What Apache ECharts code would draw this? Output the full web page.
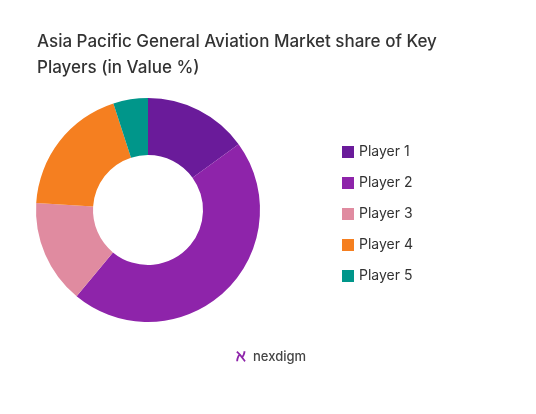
<!DOCTYPE html>
<html><head><meta charset="utf-8">
<script src="https://cdn.jsdelivr.net/npm/echarts@6/dist/echarts.min.js"></script>
<style>html,body{margin:0;background:#fff}#c{width:536px;height:414px}</style>
</head><body><div id="c"></div>
<script>
const categories = ['Player 1','Player 2','Player 3','Player 4','Player 5'];
const values = [15, 46, 15, 19, 5];
const colors = ['#6a1b9a','#8e24aa','#e08ba0','#f57f20','#00968a'];
const chart = echarts.init(document.getElementById('c'));
chart.setOption({
  title:{text:'Asia Pacific General Aviation Market share of Key\nPlayers (in Value %)',left:32,top:24,
    textStyle:{fontFamily:'Inter',fontSize:17,fontWeight:500,color:'#333',lineHeight:26}},
  legend:{orient:'vertical',left:337,top:140,itemWidth:12,itemHeight:12,itemGap:17,icon:'rect',
    textStyle:{fontFamily:'Inter',fontSize:14,color:'#333'},data:categories},
  graphic:[{type:'text',left:253,top:351,style:{text:'nexdigm',fontFamily:'Inter',fontSize:13,fontWeight:500,fill:'#444'}},
    {type:'text',left:236,top:349,style:{text:'ℵ',fontSize:16,fontWeight:'bold',fill:'#8e24aa'}}],
  series:[{type:'pie',center:[148,210],radius:[55,112],startAngle:90,clockwise:true,
    label:{show:false},labelLine:{show:false},itemStyle:{borderColor:'#fff',borderWidth:0},
    data:categories.map((n,i)=>({name:n,value:values[i],itemStyle:{color:colors[i]}}))}]
});
</script></body></html>
